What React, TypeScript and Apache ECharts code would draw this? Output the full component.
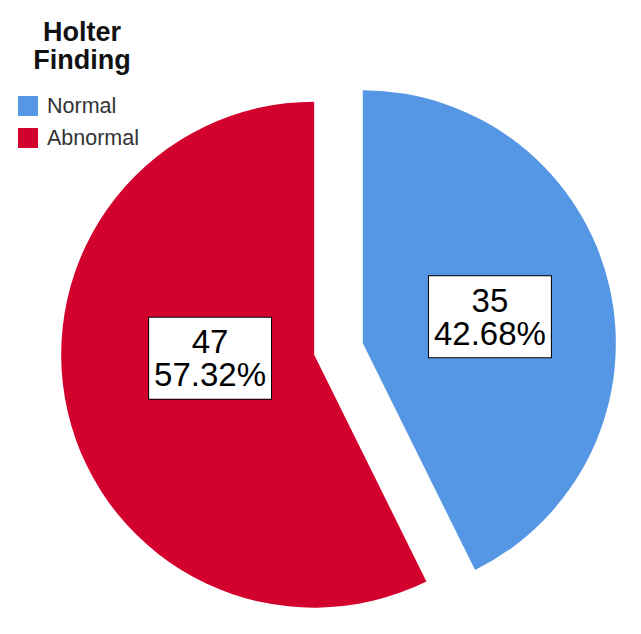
import React, { useEffect, useRef } from "react";
import * as echarts from "echarts";

const legendTitle = ["Holter", "Finding"];
const categories = ["Normal", "Abnormal"];
const counts = [35, 47];
const colors = ["#5597E4", "#D3012E"];

export default function App() {
  const ref = useRef<HTMLDivElement>(null);
  useEffect(() => {
    if (!ref.current) return;
    const chart = echarts.init(ref.current, null, { renderer: "svg" });
    chart.setOption({
      animation: false,
      backgroundColor: "#ffffff",
      graphic: [
        {
          type: "text",
          x: 82,
          y: 18,
          style: {
            text: legendTitle.join("\n"),
            font: "bold 27px 'Liberation Sans', Arial, sans-serif",
            fill: "#111",
            textAlign: "center",
            textVerticalAlign: "top",
            lineHeight: 28,
          },
        },
      ],
      legend: {
        orient: "vertical",
        left: 18,
        top: 95,
        padding: 0,
        itemWidth: 20,
        itemHeight: 20,
        itemGap: 10,
        icon: "rect",
        selectedMode: false,
        data: categories,
        textStyle: {
          fontSize: 21.5,
          color: "#333",
          fontFamily: "'Liberation Sans', Arial, sans-serif",
          padding: [0, 0, 0, 4],
          lineHeight: 20,
        },
      },
      series: [
        {
          type: "pie",
          center: [338.5, 349],
          radius: [0, 253],
          startAngle: 90,
          clockwise: true,
          selectedMode: "multiple",
          selectedOffset: 25,
          avoidLabelOverlap: false,
          emphasis: { disabled: true },
          itemStyle: { borderWidth: 0 },
          label: {
            show: true,
            position: "inside",
            formatter: "{c}\n{d}%",
            fontSize: 33,
            lineHeight: 33,
            color: "#000",
            fontFamily: "'Liberation Sans', Arial, sans-serif",
            backgroundColor: "#ffffff",
            borderColor: "#000",
            borderWidth: 1,
            padding: [7, 5, 8, 5],
            align: "center",
          },
          labelLine: { show: false },
          labelLayout: (params: any) =>
            params.dataIndex === 1 ? { dx: 22, dy: -26 } : { dx: 1, dy: 3 },
          data: categories.map((name, i) => ({
            name,
            value: counts[i],
            selected: true,
            itemStyle: { color: colors[i] },
            select: { itemStyle: { color: colors[i], borderWidth: 0 } },
          })),
        },
      ],
    });
    return () => chart.dispose();
  }, []);
  return (
    <div
      ref={ref}
      style={{ position: "fixed", left: 0, top: 0, width: 641, height: 634 }}
    />
  );
}
